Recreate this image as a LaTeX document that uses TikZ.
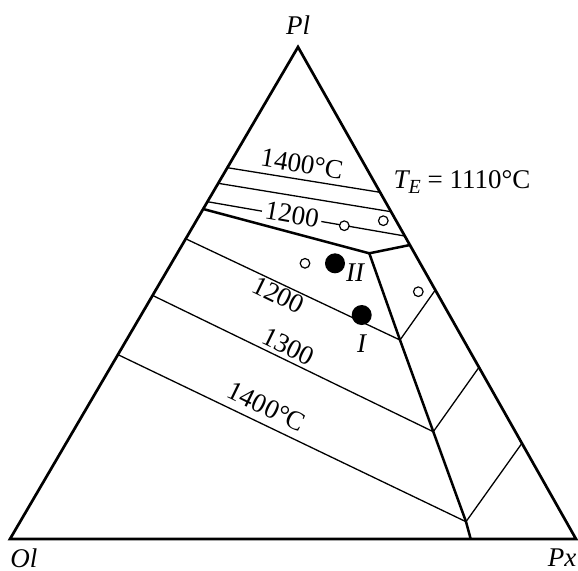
\documentclass[tikz,border=0pt]{standalone}
\usepackage{fontspec}
\setmainfont{Liberation Serif}
\begin{document}
\begin{tikzpicture}[x=0.5pt,y=-0.5pt,
  edge/.style={line width=1.35pt,line join=miter},
  cotectic/.style={line width=1.25pt,line join=round},
  iso/.style={line width=0.65pt},
  opendot/.style={circle,draw,line width=0.6pt,fill=white,minimum size=4.8pt,inner sep=0pt},
  fulldot/.style={circle,fill=black,minimum size=10pt,inner sep=0pt},
  lbl/.style={font=\fontsize{13.5}{15}\selectfont,inner sep=0.5pt},
  ilbl/.style={font=\fontsize{13.5}{15}\selectfont\itshape,inner sep=0.5pt}]
\useasboundingbox (0,0) rectangle (578,570);
% vertices
\coordinate (Pl) at (298,47);
\coordinate (Ol) at (10,539);
\coordinate (Px) at (576,539);
% edge points
\coordinate (a1) at (227.4,167.7);
\coordinate (b1) at (380.1,192.3);
\coordinate (a2) at (218.2,183.3);
\coordinate (b2) at (391.1,211.7);
\coordinate (a3) at (207.5,201.7);
\coordinate (b3) at (404.8,236);
\coordinate (a4) at (203.2,209);
\coordinate (b4) at (409.9,245);
\coordinate (J1) at (369.3,253.3);
\coordinate (J2) at (400,340);
\coordinate (J3) at (433.3,431.7);
\coordinate (J4) at (466,521.7);
\coordinate (J5) at (470.7,539);
\coordinate (r6) at (435.3,290);
\coordinate (r7) at (479,367.3);
\coordinate (r8) at (521.9,443.3);
\coordinate (l9) at (185.8,238.8);
\coordinate (l10) at (152.6,295.4);
\coordinate (l11) at (117.9,354.6);
% isotherms
\draw[iso] (a1) -- (b1);
\draw[iso] (a2) -- (b2);
\draw[iso] (a3) -- (b3);
\draw[iso] (l9) -- (J2);
\draw[iso] (l10) -- (J3);
\draw[iso] (l11) -- (J4);
\draw[iso] (r6) -- (J2);
\draw[iso] (r7) -- (J3);
\draw[iso] (r8) -- (J4);
% cotectic lines
\draw[cotectic] (a4) -- (J1) -- (b4);
\draw[cotectic] (J1) -- (J2) -- (J3) -- (J4) -- (J5);
% triangle
\draw[edge] (Pl) -- (Ol) -- (Px) -- cycle;
% labels of isotherms
\node[lbl,rotate=-9.5] (t1400a) at (302,164) {1400°C};
\node[lbl,rotate=-10,fill=white,inner sep=1.5pt] (t1200a) at (292,214.5) {1200};
\node[lbl,rotate=-26] (t1200b) at (278.3,295) {1200};
\node[lbl,rotate=-26] (t1300) at (288.3,346.7) {1300};
\node[lbl,rotate=-26] (t1400b) at (266.7,406.7) {1400°C};
\node[lbl] (te) at (462,182) {{\itshape T}\raisebox{-0.45ex}{\fontsize{10}{11}\selectfont\itshape E} = 1110°C};
% points
\node[opendot] (p1) at (383.3,220.7) {};
\node[opendot] (p2) at (344.3,225.7) {};
\node[opendot] (p3) at (305,263.3) {};
\node[opendot] (p4) at (418.3,291.7) {};
\node[fulldot] (pII) at (335,263.3) {};
\node[fulldot] (pI) at (361.7,315) {};
\node[ilbl] (lII) at (355,273) {II};
\node[ilbl] (lI) at (361.7,343.3) {I};
% vertex labels
\node[ilbl] (nPl) at (298,25) {Pl};
\node[ilbl] (nOl) at (24,558) {Ol};
\node[ilbl] (nPx) at (562,558) {Px};
\end{tikzpicture}
\end{document}
